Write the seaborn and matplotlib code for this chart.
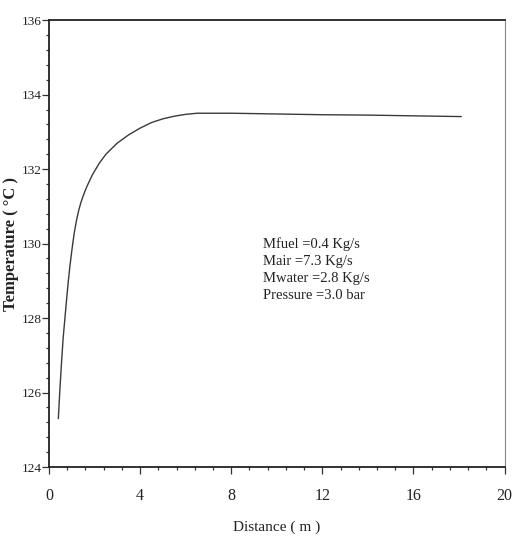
import matplotlib
matplotlib.use("Agg")
import matplotlib.pyplot as plt
from matplotlib.ticker import MultipleLocator
import seaborn as sns
import pandas as pd

# Temperature profile along the tube
distance_m = [0.41, 0.48, 0.55, 0.62, 0.70, 0.78, 0.85, 0.92, 1.0, 1.1, 1.2,
              1.3, 1.4, 1.5, 1.6, 1.7, 1.9, 2.2, 2.5, 3.0, 3.5, 4.0, 4.5,
              5.0, 5.5, 6.0, 6.5, 8.0, 10.0, 12.0, 14.0, 16.0, 18.1]
temperature_c = [125.3, 126.1, 126.8, 127.45, 128.0, 128.55, 129.0, 129.4,
                 129.8, 130.25, 130.6, 130.88, 131.1, 131.28, 131.44, 131.58,
                 131.84, 132.15, 132.4, 132.7, 132.92, 133.1, 133.25, 133.35,
                 133.42, 133.47, 133.5, 133.5, 133.48, 133.46, 133.45, 133.43,
                 133.41]

x_ticks = [0, 4, 8, 12, 16, 20]
y_ticks = [124, 126, 128, 130, 132, 134, 136]

conditions = ["Mfuel =0.4 Kg/s", "Mair =7.3 Kg/s",
              "Mwater =2.8 Kg/s", "Pressure =3.0 bar"]

sns.set_theme(style="white")
plt.rcParams["font.family"] = ["Liberation Serif", "DejaVu Serif"]

df = pd.DataFrame({"Distance": distance_m, "Temperature": temperature_c})

fig = plt.figure(figsize=(5.13, 5.44), dpi=100)
ax = fig.add_axes([0.0955, 0.1415, 0.888, 0.8215])

sns.lineplot(data=df, x="Distance", y="Temperature", ax=ax,
             color="#3a3a3a", linewidth=1.0, sort=True)

ax.set_xlim(0, 20)
ax.set_ylim(124, 136)
ax.set_xticks(x_ticks)
ax.set_yticks(y_ticks)
ax.xaxis.set_minor_locator(MultipleLocator(0.8))
ax.yaxis.set_minor_locator(MultipleLocator(0.4))

ax.tick_params(axis="x", which="both", bottom=True, top=False)
ax.tick_params(axis="y", which="both", left=True, right=False)
ax.tick_params(axis="both", which="major", direction="out", length=5,
               width=0.9, color="#333333", labelcolor="#222222")
ax.tick_params(axis="both", which="minor", direction="out", length=2.5,
               width=0.9, color="#333333")
ax.tick_params(axis="x", which="major", labelsize=11.5, pad=10)
ax.tick_params(axis="y", which="major", labelsize=9.5, pad=0)

for side in ["left", "bottom", "top"]:
    ax.spines[side].set_color("#222222")
    ax.spines[side].set_linewidth(1.3)
ax.spines["right"].set_color("#888888")
ax.spines["right"].set_linewidth(0.8)

ax.set_xlabel("Distance ( m )", fontsize=11, color="#222222", labelpad=12)
ax.set_ylabel("Temperature ( \u00b0C )", fontsize=12, fontweight="bold",
              color="#222222")
ax.yaxis.set_label_coords(-0.066, 0.5)

ax.text(0.47, 0.515, "\n".join(conditions), transform=ax.transAxes,
        fontsize=10.5, color="#222222", va="top", ha="left", linespacing=1.4)

fig.savefig("out.png", dpi=100)
